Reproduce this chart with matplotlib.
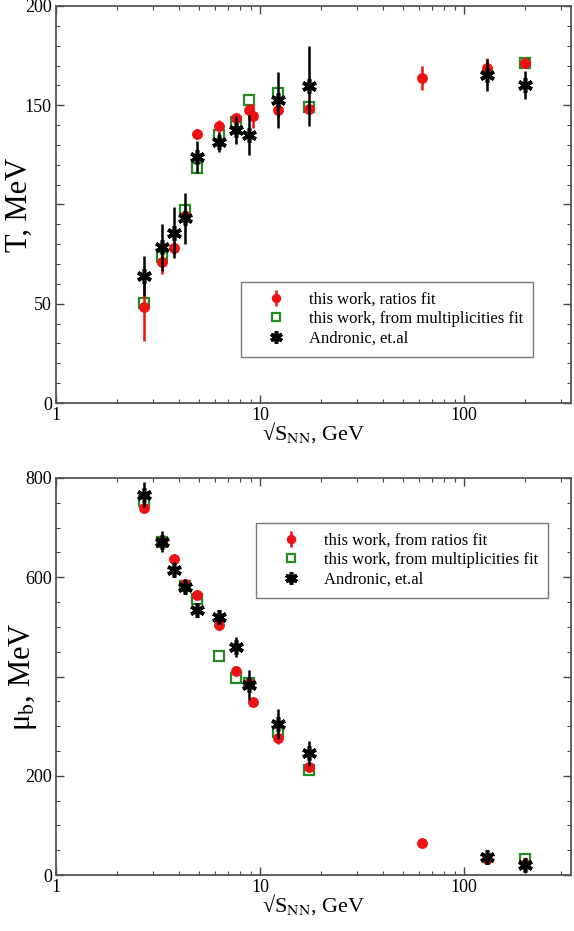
import matplotlib.pyplot as plt
import numpy as np
from matplotlib.ticker import MultipleLocator, LogLocator, NullFormatter, FixedLocator, FixedFormatter

plt.rcParams['font.family'] = ['Liberation Serif', 'DejaVu Serif']
plt.rcParams['mathtext.fontset'] = 'stix'

# energies sqrt(s_NN), GeV
e_red = [2.7, 3.3, 3.8, 4.3, 4.9, 6.3, 7.6, 8.8, 9.2, 12.3, 17.3, 62.4, 130, 200]
e_green = [2.7, 3.3, 4.3, 4.9, 6.3, 7.6, 8.8, 12.3, 17.3, 200]
e_black = [2.7, 3.3, 3.8, 4.3, 4.9, 6.3, 7.6, 8.8, 12.3, 17.3, 130, 200]

# temperature T, MeV
T_red = [48.5, 70.9, 77.9, 94.2, 135.4, 139.7, 143.4, 147.6, 144.6, 147.6, 148.1, 163.6, 169, 171.4]
T_red_err = [17.5, 6, 3, 5, 2, 3, 2, 3, 6, 4, 2, 6, 5, 2]
T_green = [50.2, 73.7, 97.2, 118.2, 135, 141.7, 152.6, 156, 149, 171.4]
T_black = [64, 78.4, 85.8, 93, 124.1, 131.6, 137.5, 135, 152.6, 159.7, 165.2, 160.2]
T_black_err = [10, 12, 13, 13, 8, 5, 7, 10, 14, 20, 8, 7]

# baryon chemical potential mu_b, MeV
mu_red = [740, 670, 636, 586, 564, 504, 411, 386, 348, 277, 218, 65, 32, 22]
mu_red_err = [8, 8, 6, 8, 6, 8, 8, 10, 8, 12, 6, 4, 4, 4]
mu_green = [754, 670, 582, 557, 441, 398, 386, 289, 212, 32]
mu_black = [766, 672, 615, 581, 535, 520, 460, 383, 304, 245, 37, 20]
mu_black_err = [25, 22, 15, 15, 10, 15, 20, 30, 30, 25, 6, 6]

fig = plt.figure(figsize=(5.74, 9.31), dpi=100)
ax1 = fig.add_axes([0.0976, 0.5671, 0.8972, 0.4265])
ax2 = fig.add_axes([0.0976, 0.0601, 0.8972, 0.4265])

def draw_panel(ax, yr, yr_err, yg, yb, yb_err, labels, ymax, ymajor, yminor, ylabel, ylab_x, leg_pos):
    h_green, = ax.plot(e_green, yg, 's', ms=6.5, mfc='none', mec='#228b22', mew=1.6, zorder=2)
    h_red = ax.errorbar(e_red, yr, yerr=yr_err, fmt='o', ms=6.8, color='#ee1111',
                        elinewidth=1.8, capsize=0, zorder=3)
    h_black = ax.errorbar(e_black, yb, yerr=yb_err, fmt='none', ecolor='black',
                          elinewidth=1.8, capsize=0, zorder=4)
    h_star, = ax.plot(e_black, yb, ls='none', marker=(6, 2, 0), ms=10.5, mew=2.6,
                      color='black', zorder=5)
    ax.set_xscale('log')
    ax.set_xlim(1, 335)
    ax.set_ylim(0, ymax)
    ax.xaxis.set_major_locator(FixedLocator([1, 10, 100]))
    ax.xaxis.set_major_formatter(FixedFormatter(['1', '10', '100']))
    ax.xaxis.set_minor_locator(LogLocator(base=10, subs=np.arange(2, 10), numticks=10))
    ax.xaxis.set_minor_formatter(NullFormatter())
    ticks = np.arange(0, ymax + 1, ymajor)
    ax.yaxis.set_major_locator(FixedLocator(ticks))
    # the middle label is hidden behind the axis title in the original
    ax.yaxis.set_major_formatter(FixedFormatter(['' if t == ymax / 2 else '%d' % t for t in ticks]))
    ax.yaxis.set_minor_locator(MultipleLocator(yminor))
    ax.tick_params(which='both', direction='in', top=True, right=True, labelsize=13, pad=3)
    ax.tick_params(which='major', length=6, width=1.0, color='#444444')
    ax.tick_params(which='minor', length=3, width=0.8, color='#444444')
    for s in ax.spines.values():
        s.set_color('#555555')
        s.set_linewidth(1.3)
    ax.set_xlabel(r'√S$_{\rm NN}$, GeV', fontsize=16, labelpad=-3)
    ax.set_ylabel(ylabel, fontsize=22)
    ax.yaxis.set_label_coords(ylab_x, 0.5)
    leg = ax.legend([h_red, h_green, h_star], labels, loc='upper left', bbox_to_anchor=leg_pos,
                    fontsize=12, frameon=True, fancybox=False, edgecolor='#555555',
                    handlelength=3.0, handletextpad=0.5, borderpad=0.6, labelspacing=0.2,
                    borderaxespad=0, markerscale=0.85)
    leg.get_frame().set_linewidth(1.0)

draw_panel(ax1, T_red, T_red_err, T_green, T_black, T_black_err,
           ['this work, ratios fit', 'this work, from multiplicities fit', 'Andronic, et.al'],
           200, 50, 10, 'T, MeV', -0.043, (0.359, 0.305))
draw_panel(ax2, mu_red, mu_red_err, mu_green, mu_black, mu_black_err,
           ['this work, from ratios fit', 'this work, from multiplicities fit', 'Andronic, et.al'],
           800, 200, 50, 'μ$_{\\rm b}$, MeV', -0.033, (0.388, 0.887))

fig.savefig('out.png', dpi=100)
